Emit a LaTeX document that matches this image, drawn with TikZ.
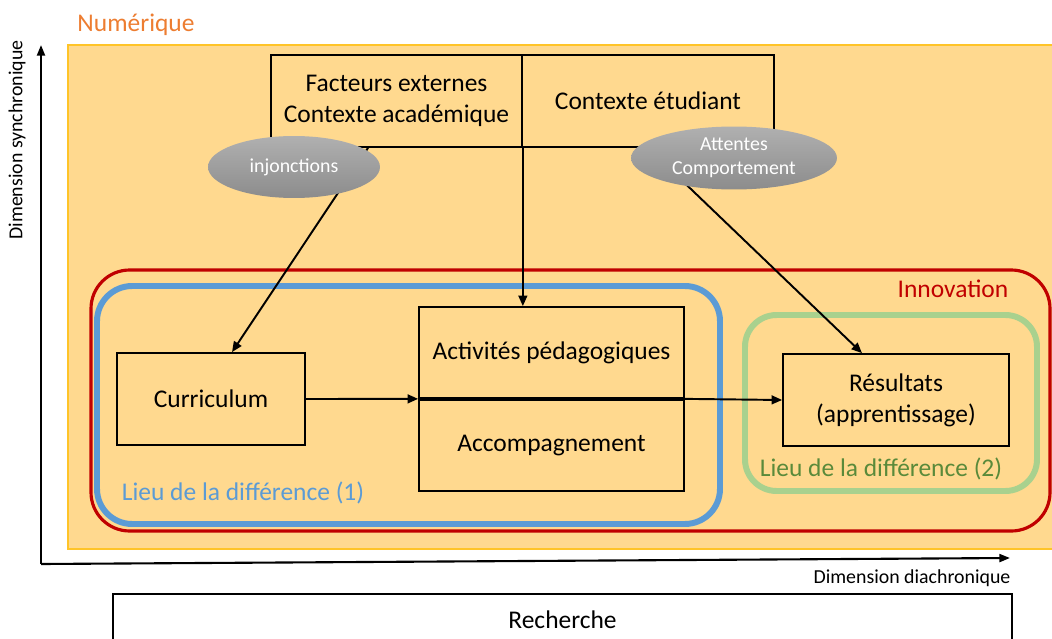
\documentclass[tikz,border=0pt]{standalone}
\usepackage{fontspec}
\setmainfont{Carlito}
\usepackage{xcolor}
\usepackage{tikz}
\usetikzlibrary{positioning}
\usetikzlibrary{shapes.geometric}
\usetikzlibrary{arrows.meta}

\definecolor{numfill}{RGB}{255,217,143}
\definecolor{numedge}{RGB}{255,196,40}
\definecolor{numtext}{RGB}{237,125,49}
\definecolor{innored}{RGB}{192,0,0}
\definecolor{lieublue}{RGB}{91,155,213}
\definecolor{lieugreen}{RGB}{169,209,142}
\definecolor{lieutext}{RGB}{90,138,58}
\definecolor{ovaltop}{RGB}{176,176,176}
\definecolor{ovalbot}{RGB}{140,140,140}

\begin{document}
\begin{tikzpicture}[
	x=0.02cm, y=-0.02cm,
	font=\fontsize{14.5}{17.8}\selectfont
]
\tikzset{
    box/.style = {draw=black, line width=1pt, align=center, inner sep=0pt},
		oval/.style = {ellipse, draw=none, top color=ovaltop, bottom color=ovalbot, text=white, align=center, inner sep=0pt, font=\fontsize{11.3}{13.6}\selectfont},
		arr/.style = {line width=1.1pt, -{Triangle[length=6pt,width=5pt]}},
		axis/.style = {line width=1.2pt, -{Triangle[length=6pt,width=4.5pt]}},
		small/.style = {font=\fontsize{11.3}{13}\selectfont}
}
\useasboundingbox (0,0) rectangle (1052,639);

% fond numerique
\fill[numfill] (68,45) rectangle (1060,549);
\draw[numedge, line width=0.6pt] (1060,45) -- (68,45) -- (68,549) -- (1060,549);
\node[text=numtext] (num) at (136,25) {Numérique};

% axes
\coordinate (origin) at (41,564);
\coordinate (ytop) at (41,45);
\coordinate (xend) at (1010,558);
\draw[axis] (origin) -- (ytop);
\draw[axis] (origin) -- (xend);
\node[small, rotate=90] (synchro) at (17,140) {Dimension synchronique};
\node[small] (diachro) at (912,578) {Dimension diachronique};

% lieux
\draw[innored, line width=1.8pt, rounded corners=22pt] (91,270) rectangle (1050,531);
\draw[lieublue, line width=3.4pt, rounded corners=20pt] (97,286) rectangle (720,524);
\draw[lieugreen, line width=3.4pt, rounded corners=18pt] (745,315) rectangle (1037,491);
\node[text=innored] (innov) at (953,289) {Innovation};
\node[text=lieublue] (lieu1) at (243,493) {Lieu de la différence (1)};
\node[text=lieutext] (lieu2) at (881,469) {Lieu de la différence (2)};

% boites
\node[box, minimum width=5.02cm, minimum height=1.84cm] (ext) at (396.5,101) {Facteurs externes\\Contexte académique};
\node[box, minimum width=5.04cm, minimum height=1.84cm] (etu) at (648,101) {Contexte étudiant};
\node[box, minimum width=3.76cm, minimum height=1.84cm] (cur) at (211,399) {Curriculum};
\node[box, minimum width=5.3cm, minimum height=1.82cm] (act) at (551.5,352.5) {Activités pédagogiques};
\node[box, minimum width=5.3cm, minimum height=1.82cm, below=0pt of act] (acc) {Accompagnement};
\node[box, minimum width=4.52cm, minimum height=1.84cm] (res) at (896,400) {Résultats\\(apprentissage)};
\node[box, minimum width=17.98cm, minimum height=1.04cm] (rech) at (562.5,620) {Recherche};

% fleches
\draw[arr] ([xshift=-0.57cm]ext.south) -- ([xshift=0.42cm]cur.north);
\draw[arr] (ext.south east) -- (ext.south east |- act.north);
\draw[arr] (etu.south) -- ([xshift=-0.68cm]res.north);
\draw[arr] (cur.east) -- (act.south west);
\draw[arr] (act.south east) -- (res.west);

% ovales
\node[oval, minimum width=3.44cm, minimum height=1.24cm] (inj) at (294,167) {injonctions};
\node[oval, minimum width=4.12cm, minimum height=1.26cm] (att) at (734,158) {Attentes\\Comportement};
\end{tikzpicture}
\end{document}
